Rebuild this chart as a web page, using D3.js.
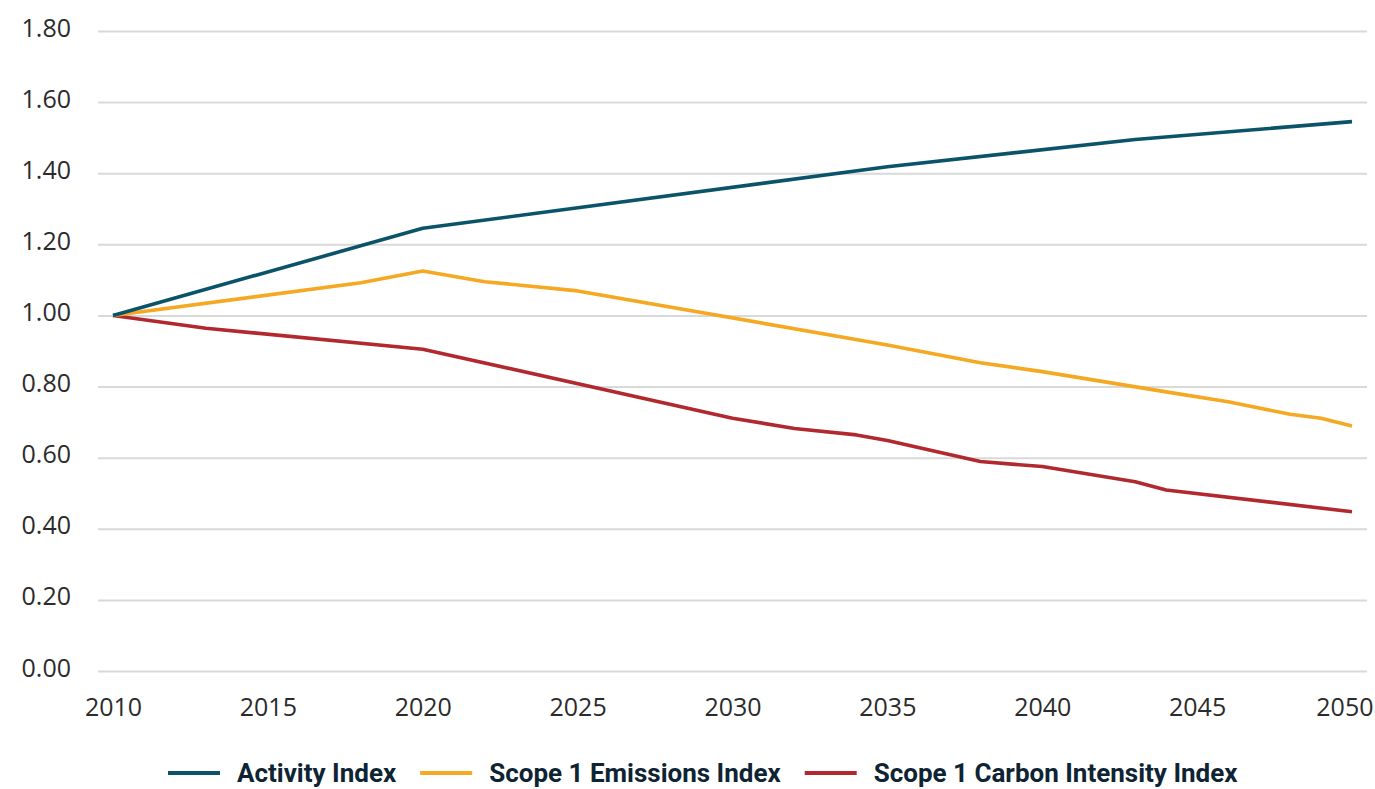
<!DOCTYPE html>
<html>
<head>
<meta charset="utf-8">
<script src="https://cdn.jsdelivr.net/npm/d3@7"></script>
<style>
body { margin:0; background:#fff; }
svg { display:block; }
</style>
</head>
<body>
<div id="chart"></div>
<script>
// series (year, index value)
var activityYears = [2010, 2020, 2035, 2043, 2050]
var activityValues = [1.00, 1.245, 1.418, 1.495, 1.545]

var emissionsYears = [2010, 2018, 2020, 2022, 2025, 2035, 2038, 2040, 2044, 2046, 2048, 2049, 2050]
var emissionsValues = [1.00, 1.092, 1.125, 1.095, 1.069, 0.917, 0.867, 0.842, 0.785, 0.757, 0.722, 0.711, 0.689]

var intensityYears = [2010, 2013, 2020, 2030, 2032, 2034, 2035, 2038, 2040, 2043, 2044, 2050]
var intensityValues = [1.00, 0.964, 0.905, 0.711, 0.682, 0.664, 0.648, 0.589, 0.575, 0.532, 0.509, 0.448]

var xTicks = [2010, 2015, 2020, 2025, 2030, 2035, 2040, 2045, 2050]
var yTicks = [0, 0.2, 0.4, 0.6, 0.8, 1.0, 1.2, 1.4, 1.6, 1.8]

var seriesNames = ["Activity Index", "Scope 1 Emissions Index", "Scope 1 Carbon Intensity Index"]
var seriesColors = ["#0b5369", "#f5a822", "#b1292f"]

var width = 1375, height = 789

var svg = d3.select("#chart")
    .append("svg")
    .attr("width", width)
    .attr("height", height)

var xScale = d3.scaleLinear()
    .domain([2010, 2050])
    .range([113, 1352])

var yScale = d3.scaleLinear()
    .domain([0, 1.8])
    .range([671, 31])

// gridlines + y labels
var yAxis = d3.axisLeft(yScale)
    .tickValues(yTicks)
    .tickSize(-(1367 - 98))
    .tickPadding(27)
    .tickFormat(d3.format(".2f"))

var gy = svg.append("g")
    .attr("transform", "translate(98,0)")
    .call(yAxis)
gy.select(".domain").remove()
gy.selectAll(".tick line")
    .attr("stroke", "#d9d9d9")
    .attr("stroke-width", 2)
gy.selectAll(".tick text")
    .attr("fill", "#2b2b2b")
    .attr("dy", "0.2em")
    .style("font-family", "'Open Sans', sans-serif")
    .style("font-size", "25px")

// x labels
var xAxis = d3.axisBottom(xScale)
    .tickValues(xTicks)
    .tickSize(0)
    .tickPadding(27)
    .tickFormat(d3.format("d"))

var gx = svg.append("g")
    .attr("transform", "translate(0,671)")
    .call(xAxis)
gx.select(".domain").remove()
gx.selectAll(".tick text")
    .attr("fill", "#2b2b2b")
    .style("font-family", "'Open Sans', sans-serif")
    .style("font-size", "25px")

// keep the last year label inside the frame
gx.selectAll(".tick").each(function(d) {
    var txt = d3.select(this).select("text")
    var half = txt.node().getComputedTextLength() / 2
    var over = xScale(d) + half - (width - 2)
    if (over > 0) txt.attr("x", -over)
})

var line = d3.line()
    .x(function(d){ return xScale(d[0]) })
    .y(function(d){ return yScale(d[1]) })

var series = [
    d3.zip(activityYears, activityValues),
    d3.zip(emissionsYears, emissionsValues),
    d3.zip(intensityYears, intensityValues)
]

// draw red first, then orange, then teal on top
for (var i = series.length - 1; i >= 0; i--) {
    svg.append("path")
        .datum(series[i])
        .attr("fill", "none")
        .attr("stroke", seriesColors[i])
        .attr("stroke-width", 3.6)
        .attr("stroke-linejoin", "round")
        .attr("d", line)
}

// legend
var legend = svg.append("g")
    .attr("transform", "translate(168,773)")

var lx = 0
seriesNames.forEach(function(name, i) {
    legend.append("line")
        .attr("x1", lx)
        .attr("x2", lx + 52)
        .attr("y1", 0)
        .attr("y2", 0)
        .attr("stroke", seriesColors[i])
        .attr("stroke-width", 4)
    var t = legend.append("text")
        .attr("x", lx + 69)
        .attr("y", 0)
        .attr("dy", "0.35em")
        .attr("fill", "#0e2433")
        .style("font-family", "Roboto, sans-serif")
        .style("font-weight", "bold")
        .style("font-size", "26px")
        .text(name)
    lx = lx + 69 + t.node().getComputedTextLength() + 24
})
</script>
</body>
</html>
